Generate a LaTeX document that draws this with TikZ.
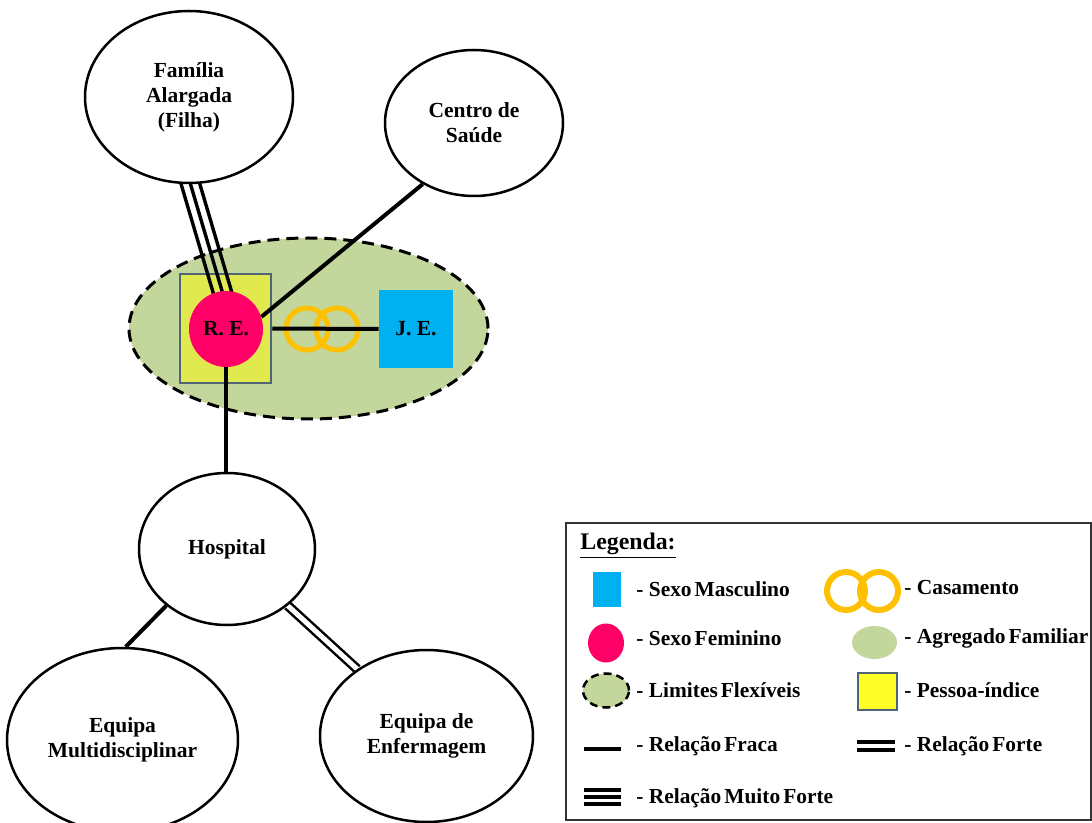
\documentclass[tikz,border=0pt]{standalone}
\usepackage{fontspec}
\setmainfont{Liberation Serif}
\usetikzlibrary{
  shapes.geometric,
  calc,
  backgrounds
}

\definecolor{agregado}{RGB}{195,214,155}
\definecolor{feminino}{RGB}{255,0,102}
\definecolor{masculino}{RGB}{0,176,240}
\definecolor{indice}{RGB}{224,233,78}
\definecolor{indicebox}{RGB}{255,255,40}
\definecolor{indiceborder}{RGB}{80,100,118}
\definecolor{anel}{RGB}{255,192,0}

\newcommand{\legendfont}{\fontsize{10.7}{12.5}\selectfont\bfseries\spaceskip=1.5pt\relax}
\newcommand{\legdash}{-\hspace{0.25em}}

\begin{document}
\begin{tikzpicture}[
    x=0.5pt,y=-0.5pt,
    font=\fontsize{10.75}{12.5}\selectfont\bfseries,
    systemNode/.style={ellipse,draw,line width=1.25pt,fill=white,align=center,inner sep=0pt},
    weak/.style={line width=2pt},
    strong/.style={double,double distance=2.5pt,line width=1.25pt},
    veryStrong/.style={line width=1.7pt,shorten <=-3pt,shorten >=-3pt},
    weddingRing/.style={circle,draw=anel,line width=2.5pt,minimum size=21pt,inner sep=0pt},
    legendText/.style={anchor=west,inner sep=0pt,font=\legendfont},
  ]
    \useasboundingbox (0,0) rectangle (1092,823);

    % ecomapa
    \node[systemNode,minimum width=104pt,minimum height=86pt] (familia) at (189,97) {Família\\Alargada\\(Filha)};
    \node[systemNode,minimum width=89pt,minimum height=73pt] (centro) at (474,123) {Centro de\\Saúde};
    \node[systemNode,minimum width=88pt,minimum height=76pt] (hospital) at (227,549) {Hospital};
    \node[systemNode,minimum width=115.5pt,minimum height=92pt] (multi) at (122.5,740) {Equipa\\Multidisciplinar};
    \node[systemNode,minimum width=106.5pt,minimum height=86pt] (enfermagem) at (426.5,736) {Equipa de\\Enfermagem};

    \node[ellipse,fill=feminino,minimum width=37pt,minimum height=38pt,inner sep=0pt] (RE) at (226,329) {R. E.};
    \node[fill=masculino,minimum width=37pt,minimum height=39pt,inner sep=0pt] (JE) at (416,329) {J. E.};

    \begin{scope}[on background layer]
      \node[ellipse,fill=agregado,draw,line width=1.5pt,dash pattern=on 6pt off 3.5pt,minimum width=179.5pt,minimum height=90.5pt] (agregado) at (308.5,328.5) {};
      \node[fill=indice,draw=indiceborder,line width=1.25pt,minimum width=45.5pt,minimum height=54.5pt] (indice) at (225.5,328.5) {};
      \node[weddingRing] (ringLeft) at (307,329) {};
      \node[weddingRing] (ringRight) at (337,329) {};

      \draw[weak] (indice.east) -- (JE.west);
      \draw[weak] (RE.19) -- (centro.230);
      \draw[weak] (RE.south) -- (RE.south |- hospital.north);
      \draw[weak] (hospital.223) -- (multi.88);
      \draw[strong] (hospital.317) -- (enfermagem.136);

      % relacao muito forte
      \draw[veryStrong] (familia.271) -- (RE.96);
      \draw[veryStrong] ($(familia.271)!4.5pt!90:(RE.96)$) -- ($(RE.96)!4.5pt!-90:(familia.271)$);
      \draw[veryStrong] ($(familia.271)!4.5pt!-90:(RE.96)$) -- ($(RE.96)!4.5pt!90:(familia.271)$);
    \end{scope}

    % legenda
    \node[draw=black!80,line width=0.75pt,minimum width=262.5pt,minimum height=148.5pt] (legenda) at (828.5,671.5) {};
    \node[legendText,font=\fontsize{11.9}{14}\selectfont\bfseries] (legTitulo) at (580,546) {\underline{Legenda:}};

    \node[fill=masculino,minimum width=14pt,minimum height=17.5pt,inner sep=0pt] (legMasc) at (607,589.5) {};
    \node[ellipse,fill=feminino,minimum width=18pt,minimum height=19.5pt,inner sep=0pt] (legFem) at (606,643) {};
    \node[ellipse,fill=agregado,draw,line width=1.25pt,dash pattern=on 4pt off 2.5pt,minimum width=23pt,minimum height=17pt,inner sep=0pt] (legLim) at (606,690.5) {};
    \draw[line width=2pt] (584,749) -- (621,749);
    \foreach \y in {790,797,804}
      \draw[line width=2pt] (584,\y) -- (621,\y);

    \node[weddingRing,line width=3pt,minimum size=19pt] (legRingLeft) at (846,591) {};
    \node[weddingRing,line width=3pt,minimum size=19pt] (legRingRight) at (879,591) {};
    \node[ellipse,fill=agregado,minimum width=22.5pt,minimum height=16.5pt,inner sep=0pt] (legAgr) at (874.5,642.5) {};
    \node[fill=indicebox,draw=indiceborder,line width=1pt,minimum width=19.5pt,minimum height=18.5pt,inner sep=0pt] (legInd) at (877.5,691.5) {};
    \foreach \y in {742,750}
      \draw[line width=2.25pt] (857,\y) -- (895,\y);

    \node[legendText] (txtMasc) at (636,589) {\legdash Sexo Masculino};
    \node[legendText] (txtFem) at (636,638) {\legdash Sexo Feminino};
    \node[legendText] (txtLim) at (636,690) {\legdash Limites Flexíveis};
    \node[legendText] (txtFraca) at (636,746) {\legdash Relação Fraca};
    \node[legendText] (txtMuito) at (636,798) {\legdash Relação Muito Forte};
    \node[legendText] (txtCas) at (904,588) {\legdash Casamento};
    \node[legendText] (txtAgr) at (904,638) {\legdash Agregado Familiar};
    \node[legendText] (txtInd) at (904,690) {\legdash Pessoa-índice};
    \node[legendText] (txtForte) at (904,746) {\legdash Relação Forte};
  \end{tikzpicture}
\end{document}
